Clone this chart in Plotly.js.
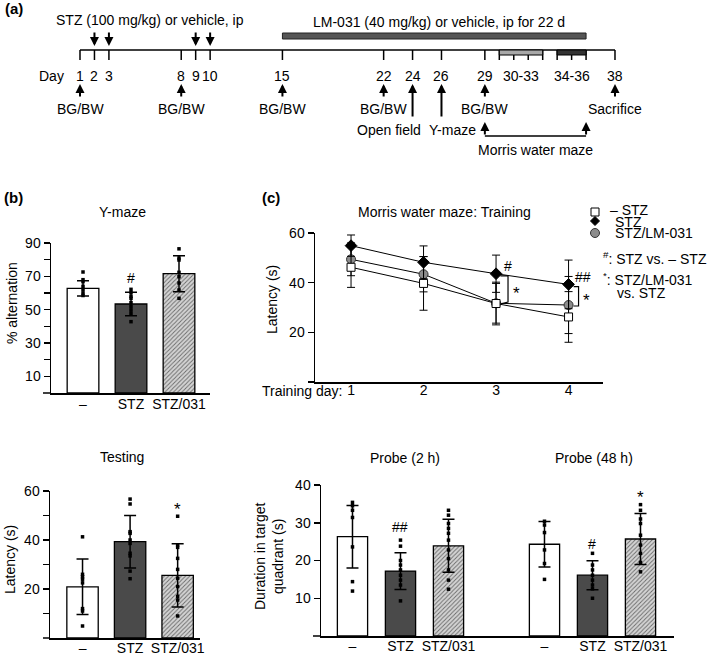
<!DOCTYPE html>
<html><head><meta charset="utf-8">
<script src="https://cdn.plot.ly/plotly-3.0.1.min.js"></script>
<style>html,body{margin:0;padding:0;background:#fff}#chart{width:709px;height:655px}</style>
</head><body><div id="chart"></div>
<script>
// ---------- DATA ----------
// (a) timeline (days)
const stzDays = [2, 3, 9, 10];
const bgbwDays = [1, 8, 15, 22, 29];
const tickDays = [1, 2, 3, 8, 9, 10, 15, 22, 24, 26, 29, 30, 31, 32, 33, 34, 35, 36, 38];
const dayLabelPos = [1, 2, 3, 8, 9, 10, 15, 22, 24, 26, 29, 31.5, 35, 38];
const dayLabels = ['1', '2', '3', '8', '9', '10', '15', '22', '24', '26', '29', '30-33', '34-36', '38'];
const lm031Period = [15, 36];
const trainingPeriod = [30, 33];
const probePeriod = [34, 36];
const openFieldDay = 24;
const yMazeDay = 26;
const mwmDays = [29, 36];
const sacrificeDay = 38;

// groups
const groups = ['–', 'STZ', 'STZ/031'];

// (b) Y-maze % alternation
const ymazeMean = [62.8, 53.4, 71.6];
const ymazeSD = [4.6, 7.0, 10.8];
const ymazeDots = [
  [72.6, 68, 66.8, 64, 62, 60, 58.5],
  [62.2, 60.2, 58, 56.8, 54.2, 51.8, 49.8, 47.8, 42.8],
  [86.5, 81, 79.8, 72.4, 69.8, 66, 61.8, 56.8]
];
const ymazeSig = ['', '#', '***'];
const ymazeSigY = [0, 69, 91.5];

// (b) Testing latency
const testMean = [20.9, 39.3, 25.6];
const testSD = [11.3, 10.7, 12.9];
const testDots = [
  [41.3, 26, 25, 24, 22.5, 12, 11, 4.9],
  [56.7, 54.7, 43.4, 42.7, 40, 38.6, 34.6, 33.5, 27.3, 24.2],
  [49.7, 38, 37, 32.5, 28, 24.4, 21, 17, 15.5, 9]
];
const testSig = ['', '###', '*'];
const testSigY = [0, 63.3, 52.3];

// (c) training latency
const trainDays = [1, 2, 3, 4];
const ctrlTrain = [46.2, 39.7, 31.6, 26.2];
const ctrlTrainSD = [8.1, 10.8, 8.6, 10.2];
const stzTrain = [54.9, 48.2, 43.6, 39.3];
const stzTrainSD = [4.3, 6.6, 7.5, 9.8];
const lmTrain = [49.4, 43.4, 31.7, 31.0];
const lmTrainSD = [6.6, 7.1, 8.0, 11.5];

// (c) probe trials duration in target quadrant
const probe2hMean = [26.3, 17.2, 23.9];
const probe2hSD = [8.3, 4.85, 7.0];
const probe48hMean = [24.3, 16.1, 25.7];
const probe48hSD = [6.05, 3.85, 6.75];
const probe2hDots = [
  [35.4, 34.5, 33.3, 31.4, 23.6, 14.4, 11.9],
  [25.4, 23.8, 20, 18.8, 17.5, 16.1, 14.8, 13.5, 9.3],
  [33.3, 32, 29.8, 28.5, 27.2, 25.4, 22.8, 20.5, 17.5, 14.8, 12.4]
];
const probe48hDots = [
  [30.4, 29.4, 27.4, 22.8, 19.2, 15],
  [21.9, 18.8, 17.5, 16.1, 14.8, 13.5, 12.5, 10],
  [34.8, 33.3, 31, 29.8, 26.7, 24.1, 21.9, 19.5, 17]
];
const probe2hSig = ['', '##', ''];
const probe2hSigY = [0, 28.8, 0];
const probe48hSig = ['', '#', '*'];
const probe48hSigY = [0, 24.3, 36.6];

// ---------- LAYOUT HELPERS ----------
const W = 709, H = 655;
const px = x => x / W;
const py = y => 1 - y / H;
const hdom = (a, b) => [a / W, b / W];
const vdom = (top, bot) => [1 - bot / H, 1 - top / H];
const FONT = {family: 'Liberation Sans, Arial, Helvetica, sans-serif', size: 14, color: '#000'};
const STARFONT = Object.assign({}, FONT, {size: 17});

const groupFill = ['#ffffff', '#4a4a4a', '#cfcfcf'];

function barTrace(xa, ya, xs, ys, sds, g, w) {
  const m = {color: groupFill[g], line: {color: '#000', width: 1.3}};
  if (g === 2) m.pattern = {shape: '/', bgcolor: '#d4d4d4', fgcolor: '#6a6a6a', size: 3, solidity: 0.3, fillmode: 'replace'};
  return {type: 'bar', xaxis: xa, yaxis: ya, x: xs, y: ys, width: w, marker: m,
    error_y: {type: 'data', array: sds, visible: true, color: '#000', thickness: 1.5, width: 6},
    showlegend: false, hoverinfo: 'skip'};
}
function dotTrace(xa, ya, pos, vals) {
  return {type: 'scatter', mode: 'markers', xaxis: xa, yaxis: ya, x: vals.map(() => pos), y: vals,
    marker: {symbol: 'square', size: 3.5, color: '#000'}, showlegend: false, hoverinfo: 'skip', cliponaxis: false};
}

const traces = [];
const annotations = [];
const shapes = [];

// Y-maze (x, y)
groups.forEach((g, i) => traces.push(barTrace('x', 'y', [i], [ymazeMean[i]], [ymazeSD[i]], i, 0.66)));
groups.forEach((g, i) => traces.push(dotTrace('x', 'y', i, ymazeDots[i])));
// Testing (x2, y2)
groups.forEach((g, i) => traces.push(barTrace('x2', 'y2', [i], [testMean[i]], [testSD[i]], i, 0.66)));
groups.forEach((g, i) => traces.push(dotTrace('x2', 'y2', i, testDots[i])));
// Probe (x4, y4): 2 h at 0..2, 48 h at 4..6
groups.forEach((g, i) => {
  traces.push(barTrace('x4', 'y4', [i, i + 4], [probe2hMean[i], probe48hMean[i]], [probe2hSD[i], probe48hSD[i]], i, 0.63));
});
groups.forEach((g, i) => {
  traces.push(dotTrace('x4', 'y4', i, probe2hDots[i]));
  traces.push(dotTrace('x4', 'y4', i + 4, probe48hDots[i]));
});

// Training (x3, y3)
const trainSeries = [
  {mean: lmTrain, sd: lmTrainSD, marker: {symbol: 'circle', size: 9, color: '#8c8c8c', line: {color: '#333', width: 1}}},
  {mean: stzTrain, sd: stzTrainSD, marker: {symbol: 'diamond', size: 9, color: '#000', line: {color: '#000', width: 1}}},
  {mean: ctrlTrain, sd: ctrlTrainSD, marker: {symbol: 'square', size: 8, color: '#fff', line: {color: '#000', width: 1}}}
];
trainSeries.forEach(s => {
  traces.push({type: 'scatter', mode: 'lines+markers', xaxis: 'x3', yaxis: 'y3', x: trainDays, y: s.mean,
    line: {color: '#000', width: 1}, marker: s.marker,
    error_y: {type: 'data', array: s.sd, visible: true, color: '#000', thickness: 1, width: 4},
    showlegend: false, hoverinfo: 'skip', cliponaxis: false});
});

// significance marks
function sig(xa, ya, xs, texts, ys) {
  texts.forEach((t, i) => {
    if (!t) return;
    annotations.push({xref: xa, yref: ya, x: xs[i], y: ys[i], text: t, showarrow: false,
      font: t.indexOf('*') >= 0 ? STARFONT : FONT, xanchor: 'center', yanchor: 'middle'});
  });
}
sig('x', 'y', [0, 1, 2], ymazeSig, ymazeSigY);
sig('x2', 'y2', [0, 1, 2], testSig, testSigY);
sig('x4', 'y4', [0, 1, 2], probe2hSig, probe2hSigY);
sig('x4', 'y4', [4, 5, 6], probe48hSig, probe48hSigY);
// training marks
annotations.push({xref: 'x3', yref: 'y3', x: 3.08, y: 46.7, text: '#', showarrow: false, font: FONT, xanchor: 'left'});
annotations.push({xref: 'x3', yref: 'y3', x: 4.06, y: 42.3, text: '##', showarrow: false, font: FONT, xanchor: 'left'});
annotations.push({xref: 'x3', yref: 'y3', x: 3.28, y: 35.5, text: '*', showarrow: false, font: STARFONT});
annotations.push({xref: 'x3', yref: 'y3', x: 4.25, y: 33.0, text: '*', showarrow: false, font: STARFONT});
shapes.push({type: 'path', xref: 'x3', yref: 'y3', path: 'M 3.06,42.7 L 3.165,42.7 L 3.165,32.2 L 3.07,31.5', line: {color: '#000', width: 1.2}});
shapes.push({type: 'path', xref: 'x3', yref: 'y3', path: 'M 4.07,38.4 L 4.138,38.4 L 4.138,30.6 L 4.07,30.6', line: {color: '#000', width: 1.2}});

// ---------- PANEL (a) TIMELINE on x5 (days) / y5 (pixel rows) ----------
const TL = {xref: 'x5', yref: 'y5'};
shapes.push(Object.assign({type: 'line', x0: tickDays[0], x1: tickDays[tickDays.length - 1], y0: 50, y1: 50, line: {color: '#000', width: 1.5}}, TL));
tickDays.forEach(d => shapes.push(Object.assign({type: 'line', x0: d, x1: d, y0: 50, y1: 60, line: {color: '#000', width: 1.5}}, TL)));
shapes.push(Object.assign({type: 'rect', x0: lm031Period[0], x1: lm031Period[1], y0: 33, y1: 39, fillcolor: '#555', line: {color: '#222', width: 1}}, TL));
shapes.push(Object.assign({type: 'rect', x0: trainingPeriod[0], x1: trainingPeriod[1], y0: 50, y1: 55, fillcolor: '#a8a8a8', line: {color: '#000', width: 1}}, TL));
shapes.push(Object.assign({type: 'rect', x0: probePeriod[0], x1: probePeriod[1], y0: 50, y1: 55, fillcolor: '#333', line: {color: '#000', width: 1}}, TL));
shapes.push(Object.assign({type: 'line', x0: mwmDays[0], x1: mwmDays[1], y0: 136, y1: 136, line: {color: '#000', width: 1.5}}, TL));

function arrow(d, yHead, yTail) {
  annotations.push({xref: 'x5', yref: 'y5', axref: 'x5', ayref: 'y5', x: d, y: yHead, ax: d, ay: yTail,
    text: '', showarrow: true, arrowhead: 2, arrowsize: 0.9, arrowwidth: 2, arrowcolor: '#000', standoff: 0, startstandoff: 0});
}
stzDays.forEach(d => arrow(d, 46, 31));
bgbwDays.concat([sacrificeDay]).forEach(d => arrow(d, 84, 98));
arrow(openFieldDay, 84, 118);
arrow(yMazeDay, 84, 118);
mwmDays.forEach(d => arrow(d, 122, 136));

function tlText(x, y, text, xref, anchor) {
  annotations.push({xref: xref || 'x5', yref: 'y5', x: x, y: y, text: text, showarrow: false, font: FONT,
    xanchor: anchor || 'center', yanchor: 'middle'});
}
dayLabelPos.forEach((d, i) => tlText(d, 76, dayLabels[i]));
tlText(px(51), 76, 'Day', 'paper');
bgbwDays.forEach(d => tlText(d, 109, 'BG/BW'));
tlText(sacrificeDay, 109, 'Sacrifice');
tlText(px(389), 130, 'Open field', 'paper');
tlText(px(452), 130, 'Y-maze', 'paper');
tlText((mwmDays[0] + mwmDays[1]) / 2, 150, 'Morris water maze');
tlText(px(150), 20, 'STZ (100 mg/kg) or vehicle, ip', 'paper');
tlText(px(439), 22, 'LM-031 (40 mg/kg) or vehicle, ip for 22 d', 'paper');

// ---------- TEXT LABELS ----------
function ptext(x, y, text, opts) {
  annotations.push(Object.assign({xref: 'paper', yref: 'paper', x: px(x), y: py(y), text: text, showarrow: false,
    font: FONT, xanchor: 'center', yanchor: 'middle'}, opts || {}));
}
const BOLD = Object.assign({}, FONT, {size: 15});
ptext(3, 9, '<b>(a)</b>', {xanchor: 'left', font: BOLD});
ptext(2, 197, '<b>(b)</b>', {xanchor: 'left', font: BOLD});
ptext(260, 197, '<b>(c)</b>', {xanchor: 'left', font: BOLD});
ptext(122, 212, 'Y-maze');
ptext(122, 457, 'Testing');
ptext(444, 212, 'Morris water maze: Training');
ptext(405, 458, 'Probe (2 h)');
ptext(594, 458, 'Probe (48 h)');
ptext(12, 303, '% alternation', {textangle: -90});
ptext(272, 300, 'Latency (s)', {textangle: -90});
ptext(10, 560, 'Latency (s)', {textangle: -90});
ptext(269, 556, 'Duration in target<br>quadrant (s)', {textangle: -90});
ptext(344, 391, 'Training day:', {xanchor: 'right'});
// legend
ptext(608, 209.5, '– STZ', {xanchor: 'left'});
ptext(613, 221.5, 'STZ', {xanchor: 'left'});
ptext(613, 233.5, 'STZ/LM-031', {xanchor: 'left'});
ptext(601, 258, '<sup>#</sup>: STZ vs. – STZ', {xanchor: 'left'});
ptext(601, 279, '<sup>*</sup>: STZ/LM-031', {xanchor: 'left'});
ptext(615, 293, 'vs. STZ', {xanchor: 'left'});
// legend symbols
shapes.push({type: 'rect', xref: 'paper', yref: 'paper', x0: px(591), x1: px(599), y0: py(208), y1: py(216), fillcolor: '#fff', line: {color: '#000', width: 1}});
shapes.push({type: 'path', xref: 'paper', yref: 'paper', path: `M ${px(595)},${py(216.5)} L ${px(599.5)},${py(221)} L ${px(595)},${py(225.5)} L ${px(590.5)},${py(221)} Z`, fillcolor: '#000', line: {color: '#000', width: 1}});
shapes.push({type: 'circle', xref: 'paper', yref: 'paper', x0: px(590.5), x1: px(599.5), y0: py(228.5), y1: py(237.5), fillcolor: '#8c8c8c', line: {color: '#333', width: 1}});
// SigmaPlot-style x-axis extension to the left of y axes
shapes.push({type: 'line', xref: 'paper', yref: 'paper', x0: px(43), x1: px(51), y0: py(393), y1: py(393), line: {color: '#000', width: 1.5}});
shapes.push({type: 'line', xref: 'paper', yref: 'paper', x0: px(43), x1: px(50), y0: py(638), y1: py(638), line: {color: '#000', width: 1.5}});
shapes.push({type: 'line', xref: 'paper', yref: 'paper', x0: px(313), x1: px(321), y0: py(636), y1: py(636), line: {color: '#000', width: 1.5}});

// ---------- AXES ----------
const AX = {showline: true, linecolor: '#000', linewidth: 1.5, showgrid: false, zeroline: false, fixedrange: true,
  tickfont: FONT, tickcolor: '#000', tickwidth: 1.5};
function xAx(dom, range, tv, tt, anchor, standoff) {
  return Object.assign({}, AX, {domain: dom, range: range, anchor: anchor, tickmode: 'array', tickvals: tv, ticktext: tt,
    ticks: '', ticklen: 0, ticklabelstandoff: standoff});
}
function yAx(dom, range, tv, minorTv, anchor) {
  return Object.assign({}, AX, {domain: dom, range: range, anchor: anchor, tickmode: 'array', tickvals: tv,
    ticktext: tv.map(String), ticks: 'outside', ticklen: 6,
    minor: {tickmode: 'array', tickvals: minorTv, ticks: 'outside', ticklen: 6, tickwidth: 1.5, tickcolor: '#000', showgrid: false}});
}
const layout = {
  width: W, height: H, margin: {l: 0, r: 0, t: 0, b: 0},
  paper_bgcolor: '#fff', plot_bgcolor: 'rgba(0,0,0,0)',
  font: FONT, showlegend: false, barmode: 'overlay',
  xaxis: xAx(hdom(51, 210), [-0.667, 2.646], [0, 1, 2], groups, 'y', -2),
  yaxis: yAx(vdom(243, 393), [0, 90], [10, 30, 50, 70, 90], [20, 40, 60, 80], 'x'),
  xaxis2: xAx(hdom(50, 200), [-0.684, 2.47], [0, 1, 2], groups, 'y2', -3),
  yaxis2: yAx(vdom(491, 638), [0, 60], [20, 40, 60], [10, 30, 50], 'x2'),
  xaxis3: xAx(hdom(315, 603), [0.503, 4.475], trainDays, trainDays.map(String), 'y3', -5),
  yaxis3: yAx(vdom(233, 382), [0, 60], [20, 40, 60], [0], 'x3'),
  xaxis4: xAx(hdom(321, 674), [-0.656, 6.698], [0, 1, 2, 4, 5, 6], groups.concat(groups), 'y4', -3),
  yaxis4: yAx(vdom(485, 636), [0, 40], [10, 20, 30, 40], [], 'x4'),
  xaxis5: {domain: [0, 1], range: [-4.533, 44.502], visible: false, anchor: 'y5', fixedrange: true},
  yaxis5: {domain: [0, 1], range: [655, 0], visible: false, anchor: 'x5', fixedrange: true},
  annotations: annotations,
  shapes: shapes
};
// dummy trace to activate x5/y5
traces.push({type: 'scatter', xaxis: 'x5', yaxis: 'y5', x: [null], y: [null], showlegend: false, hoverinfo: 'skip'});

Plotly.newPlot('chart', traces, layout, {displayModeBar: false, staticPlot: true});
</script></body></html>
